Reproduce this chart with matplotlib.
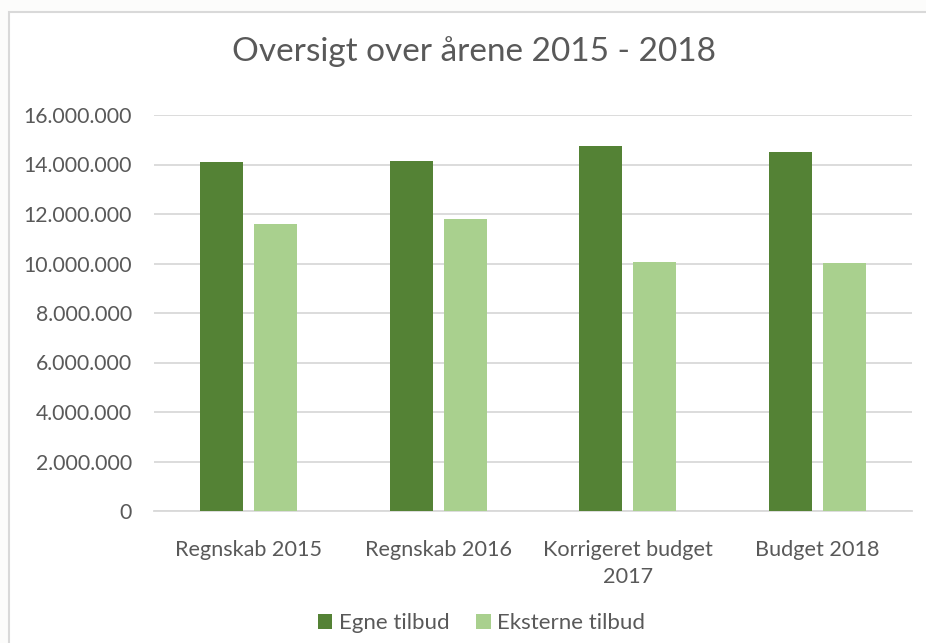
import matplotlib
matplotlib.use("Agg")
import matplotlib.pyplot as plt
from matplotlib.patches import Rectangle
from matplotlib.ticker import FuncFormatter
import numpy as np

# data
categories = ["Regnskab 2015", "Regnskab 2016", "Korrigeret budget\n2017", "Budget 2018"]
egne = [14110000, 14150000, 14760000, 14520000]
eksterne = [11610000, 11810000, 10080000, 10040000]
series_names = ["Egne tilbud", "Eksterne tilbud"]

DARK = "#548235"
LIGHT = "#A9D08E"
TXT = "#595959"
GRID = "#D9D9D9"

plt.rcParams['font.family'] = ['Lato', 'DejaVu Sans']

fig = plt.figure(figsize=(9.26, 6.43), dpi=100)
fig.patch.set_facecolor("#FCFCFB")
# chart area frame (runs off the right and bottom edge)
fig.patches.append(Rectangle((9 / 926, -0.02), 1.0, 1 - 12 / 643 + 0.02,
                             transform=fig.transFigure, facecolor="white",
                             edgecolor=GRID, linewidth=1.5, zorder=-10))

ax = fig.add_axes([154 / 926, 1 - 511 / 643, (912 - 154) / 926, (511 - 115) / 643])
ax.set_zorder(1)
ax.set_facecolor("white")

x = np.arange(len(categories))
w = 0.227
off = 0.1425
ax.bar(x - off, egne, w, color=DARK, label=series_names[0], zorder=3)
ax.bar(x + off, eksterne, w, color=LIGHT, label=series_names[1], zorder=3)

ax.set_xlim(-0.5, len(categories) - 0.5)
ax.set_ylim(0, 16000000)
ax.set_yticks(np.arange(0, 16000001, 2000000))
ax.yaxis.set_major_formatter(FuncFormatter(lambda v, p: f"{int(v):,}".replace(",", ".")))
ax.grid(axis="y", color=GRID, linewidth=1.3, zorder=0)
ax.set_axisbelow(True)
ax.set_xticks(x)
ax.set_xticklabels(categories, linespacing=1.45)
ax.tick_params(axis="both", length=0, colors=TXT)
ax.tick_params(axis="y", pad=16, labelsize=15.3)
ax.tick_params(axis="x", pad=21, labelsize=15.6)
for s in ["top", "right", "left"]:
    ax.spines[s].set_visible(False)
ax.spines["bottom"].set_color(GRID)
ax.spines["bottom"].set_linewidth(1.3)

fig.text(0.512, 1 - 52 / 643, "Oversigt over årene 2015 - 2018", ha="center", va="center",
         fontsize=24, color=TXT)

fig.legend(loc="center", bbox_to_anchor=(0.52, 1 - 623 / 643), ncol=2, frameon=False,
           fontsize=16, labelcolor=TXT, handlelength=0.65, handleheight=0.65,
           handletextpad=0.3, columnspacing=1.2)

fig.savefig("out.png", dpi=100, facecolor=fig.get_facecolor())
